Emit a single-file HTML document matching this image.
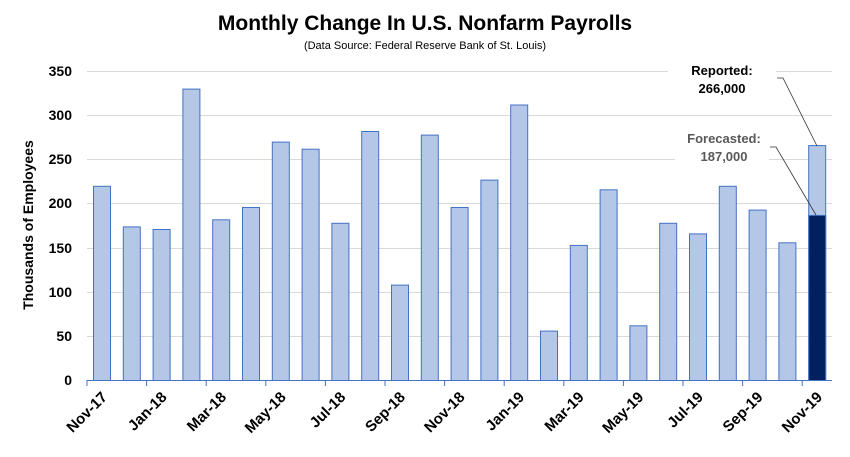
<!DOCTYPE html>
<html><head><style>body{margin:0;background:#fff}svg{display:block;font-family:"Liberation Sans",Calibri,sans-serif}</style></head><body>
<svg width="850" height="457" viewBox="0 0 850 457">
<text x="425" y="30" text-anchor="middle" font-size="21" font-weight="bold" fill="#000">Monthly Change In U.S. Nonfarm Payrolls</text>
<text x="425" y="49" text-anchor="middle" font-size="11" fill="#000">(Data Source: Federal Reserve Bank of St. Louis)</text>
<g stroke="#d9d9d9" stroke-width="1">
<line x1="87" x2="832" y1="71.5" y2="71.5"/><line x1="87" x2="832" y1="115.5" y2="115.5"/><line x1="87" x2="832" y1="159.5" y2="159.5"/><line x1="87" x2="832" y1="203.5" y2="203.5"/><line x1="87" x2="832" y1="248.5" y2="248.5"/><line x1="87" x2="832" y1="292.5" y2="292.5"/><line x1="87" x2="832" y1="336.5" y2="336.5"/>
</g>
<rect x="668" y="60" width="108" height="40" fill="#fff"/>
<rect x="675" y="128" width="94" height="40" fill="#fff"/>
<g font-size="14" font-weight="bold" text-anchor="end" fill="#000">
<text x="72" y="76">350</text><text x="72" y="120">300</text><text x="72" y="164">250</text><text x="72" y="208">200</text><text x="72" y="253">150</text><text x="72" y="297">100</text><text x="72" y="341">50</text><text x="72" y="385">0</text>
</g>
<text transform="translate(33,225) rotate(-90)" text-anchor="middle" font-size="14" font-weight="bold">Thousands of Employees</text>
<g id="bars" fill="#b4c7e7" stroke="#4472c4" stroke-width="1"></g>
<line x1="87" x2="832" y1="380.5" y2="380.5" stroke="#4472c4"/>
<g id="ticks" stroke="#4472c4"></g>
<g id="labels" font-size="15" font-weight="bold" text-anchor="end"></g>
<text x="722" y="75" text-anchor="middle" font-size="13" font-weight="bold">Reported:</text>
<text x="722" y="93" text-anchor="middle" font-size="13" font-weight="bold">266,000</text>
<text x="724" y="143" text-anchor="middle" font-size="13" font-weight="bold" fill="#595959">Forecasted:</text>
<text x="724" y="161" text-anchor="middle" font-size="13" font-weight="bold" fill="#595959">187,000</text>
<polyline points="777,78 783,78 817,146" fill="none" stroke="#333" stroke-width="0.8"/>
<polyline points="770,147 776,147 816,215" fill="none" stroke="#333" stroke-width="0.8"/>
</svg>
<script>
var v=[220,174,171,330,182,196,270,262,178,282,108,278,196,227,312,56,153,216,62,178,166,220,193,156,266];
var ns="http://www.w3.org/2000/svg",b=document.getElementById("bars"),t=document.getElementById("ticks"),l=document.getElementById("labels");
var x0=87,w=29.8,k=0.8829;
function el(n,a,p){var e=document.createElementNS(ns,n);for(var q in a)e.setAttribute(q,a[q]);p.appendChild(e);return e;}
v.forEach(function(d,i){var x=x0+i*w+6.5,h=d*k;el("rect",{x:x.toFixed(1),y:(380.5-h).toFixed(1),width:17,height:h.toFixed(1)},b);});
var h2=187*k;el("rect",{x:(x0+24*w+6.5).toFixed(1),y:(380.5-h2).toFixed(1),width:17,height:h2.toFixed(1),fill:"#002060"},b);
var m=["Nov-17","Jan-18","Mar-18","May-18","Jul-18","Sep-18","Nov-18","Jan-19","Mar-19","May-19","Jul-19","Sep-19","Nov-19"];
for(var i=0;i<=12;i++){var tx=x0+i*2*w;el("line",{x1:tx,x2:tx,y1:380,y2:386},t);
var cx=x0+i*2*w+15;var e=el("text",{transform:"translate("+(cx+6)+",398) rotate(-45)"},l);e.textContent=m[i];}
</script>
</body></html>
